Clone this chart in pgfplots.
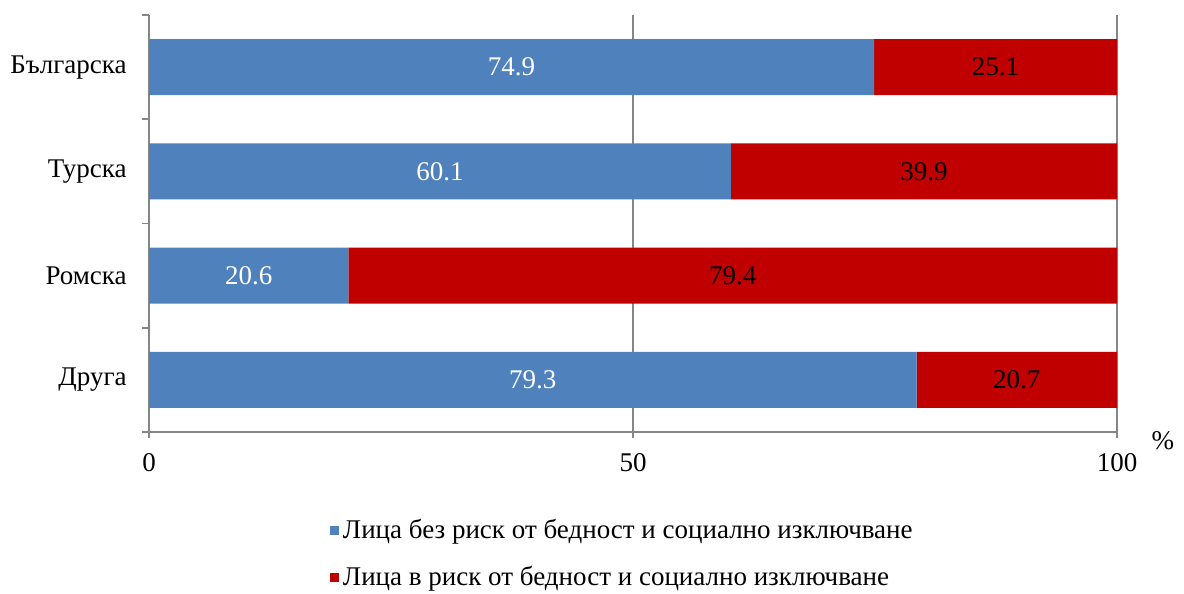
\documentclass[border=0pt]{standalone}
\usepackage{fontspec}
\setmainfont{Liberation Serif}
\usepackage{pgfplots}
\pgfplotsset{compat=1.18}
\definecolor{cblue}{HTML}{4F81BD}
\definecolor{cred}{HTML}{C00000}
\definecolor{axgray}{HTML}{868686}
\begin{document}
\fontsize{13.5}{16}\selectfont
\begin{tikzpicture}
\useasboundingbox (0,0) rectangle (592pt,297pt);
\begin{axis}[
  at={(74.5pt,81pt)}, anchor=south west,
  scale only axis, width=484pt, height=208.5pt,
  xbar stacked, bar width=28pt,
  xmin=0, xmax=100, ymin=-0.5, ymax=3.5,
  axis x line*=bottom, axis y line*=left,
  axis line style={-, axgray, line width=0.9pt},
  /pgf/number format/assume math mode=true,
  xtick={0,50,100},
  xmajorgrids, major grid style={axgray, line width=0.9pt},
  tick align=outside, major tick length=3pt, minor tick length=3.5pt,
  every tick/.style={axgray, line width=0.9pt},
  every major y tick/.style={draw=none},
  ytick={0,1,2,3}, yticklabels={Друга,Ромска,Турска,Българска},
  minor ytick={-0.5,0.5,1.5,2.5,3.5},
  yticklabel style={xshift=-3.5pt},
  xticklabel style={yshift=-3pt},
  xlabel={\%}, xlabel style={at={(axis description cs:1.0475,-0.02)}, anchor=center},
  nodes near coords={\pgfmathprintnumber[fixed,precision=1,fixed zerofill]{\pgfplotspointmeta}},
  point meta=explicit,
  every node near coord/.append style={anchor=center},
  legend style={at={(0.49,-0.188)}, anchor=north, draw=none, fill=none, row sep=8pt, font=\fontsize{13.5}{16}\selectfont},
  legend cell align=left,
  legend image code/.code={\fill[#1] (0pt,-2.25pt) rectangle (4.5pt,2.25pt);},
]
\addplot+[fill=cblue, draw=none, every node near coord/.append style={text=white}]
  coordinates {(74.9,3)[74.9] (60.1,2)[60.1] (20.6,1)[20.6] (79.3,0)[79.3]};
\addplot+[fill=cred, draw=none, every node near coord/.append style={text=black}]
  coordinates {(25.1,3)[25.1] (39.9,2)[39.9] (79.4,1)[79.4] (20.7,0)[20.7]};
\legend{Лица без риск от бедност и социално изключване, Лица в риск от бедност и социално изключване}
\end{axis}
\end{tikzpicture}
\end{document}
